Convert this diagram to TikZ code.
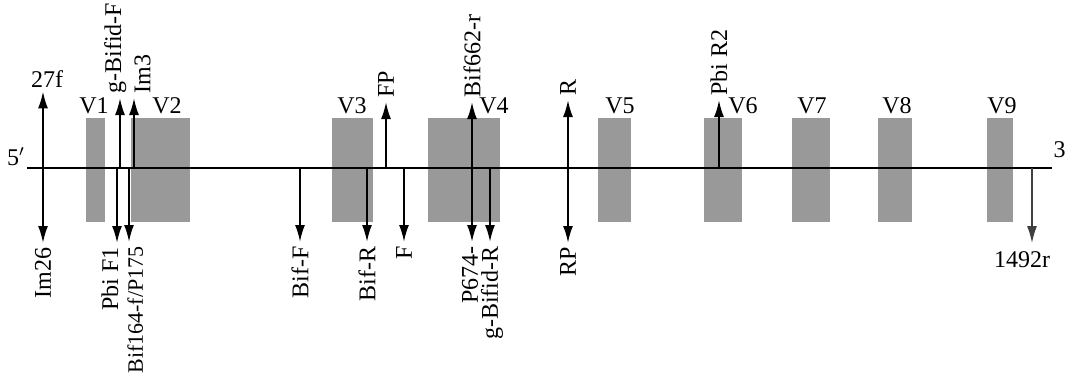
\documentclass[tikz,border=0pt]{standalone}
\usepackage{fontspec}
\setmainfont{Liberation Serif}
\usetikzlibrary{arrows.meta}
\definecolor{exongray}{RGB}{153,153,153}

\begin{document}
\begin{tikzpicture}[%
        x=0.5pt, y=-0.5pt,
        every node/.style={font=\fontsize{12}{14}\selectfont, inner sep=2pt},
        exon/.style={fill=exongray, minimum height=52pt, inner sep=0pt},
        vname/.style={anchor=base},
        fwdlbl/.style={rotate=90, anchor=west},
        revlbl/.style={rotate=90, anchor=east},
        primer/.style={line width=1pt, -{Latex[length=8.5pt,width=5pt]}},
        axis/.style={line width=1pt}
        ]
        \useasboundingbox (0,0) rectangle (1067,376);
        % variable regions
        \node[exon, minimum width=9.5pt] (v1) at (95.5,170) {};
        \node[exon, minimum width=29.5pt] (v2) at (160.5,170) {};
        \node[exon, minimum width=20.5pt] (v3) at (352.5,170) {};
        \node[exon, minimum width=36pt] (v4) at (464,170) {};
        \node[exon, minimum width=16.5pt] (v5) at (614.5,170) {};
        \node[exon, minimum width=19pt] (v6) at (723,170) {};
        \node[exon, minimum width=19pt] (v7) at (811,170) {};
        \node[exon, minimum width=17pt] (v8) at (895,170) {};
        \node[exon, minimum width=13pt] (v9) at (1000,170) {};
        \node[vname] (v1n) at (94,113) {V1};
        \node[vname] (v2n) at (167,113) {V2};
        \node[vname] (v3n) at (352,113) {V3};
        \node[vname] (v4n) at (494,113) {V4};
        \node[vname] (v5n) at (620,113) {V5};
        \node[vname] (v6n) at (743,113) {V6};
        \node[vname] (v7n) at (812,113) {V7};
        \node[vname] (v8n) at (897,113) {V8};
        \node[vname] (v9n) at (1002,113) {V9};
        % gene axis
        \coordinate (ax5) at (27,168);
        \coordinate (ax3) at (1052,168);
        \draw[axis] (ax5) -- (ax3);
        \node (end5) at (16,157) {5$'$};
        \node[anchor=base east, inner sep=0pt] (end3) at (1066,157) {3};
        % forward primers
        \node[anchor=base] (f27) at (47,87) {27f};
        \node[fwdlbl, anchor=base west] (gbf) at (121,98) {g-Bifid-F};
        \node[fwdlbl, anchor=north west] (im3) at (130,98) {Im3};
        \node[fwdlbl] (fp) at (386,102) {FP};
        \node[fwdlbl] (b662) at (472,102) {Bif662-r};
        \node[fwdlbl] (rr) at (568,100) {R};
        \node[fwdlbl] (pr2) at (719,100) {Pbi R2};
        \draw[primer] (ax5 -| 43,0) -- (43,98 |- f27.south);
        \draw[primer] (ax5 -| 120,0) -- (120,0 |- gbf.west);
        \draw[primer] (ax5 -| 134,0) -- (134,0 |- im3.west);
        \draw[primer] (fp.west |- ax5) -- (fp.west);
        \draw[primer] (b662.west |- ax5) -- (b662.west);
        \draw[primer] (rr.west |- ax5) -- (rr.west);
        \draw[primer] (pr2.west |- ax5) -- (pr2.west);
        % reverse primers
        \node[revlbl] (im26) at (43,243) {Im26};
        \node[revlbl, anchor=base east] (pf1) at (118,243) {Pbi F1};
        \node[revlbl, anchor=north east, font=\fontsize{11}{13}\selectfont] (b164) at (123,242) {Bif164-f/P175};
        \node[revlbl] (bff) at (300,242) {Bif-F};
        \node[revlbl] (bfr) at (367,242) {Bif-R};
        \node[revlbl] (ff) at (404,242) {F};
        \node[revlbl] (p674) at (470,242) {P674-};
        \node[revlbl] (gbr) at (492,242) {g-Bifid-R};
        \node[revlbl] (rp) at (568,243) {RP};
        \node[anchor=base] (r1492) at (1022,267) {1492r};
        \draw[primer] (im26.east |- ax5) -- (im26.east);
        \draw[primer] (ax5 -| 117,0) -- (117,0 |- pf1.east);
        \draw[primer] (ax5 -| 129,0) -- (129,0 |- b164.east);
        \draw[primer] (bff.east |- ax5) -- (bff.east);
        \draw[primer] (bfr.east |- ax5) -- (bfr.east);
        \draw[primer] (ff.east |- ax5) -- (ff.east);
        \draw[primer] (ax5 -| 472,0) -- (472,0 |- p674.east);
        \draw[primer] (ax5 -| 490,0) -- (490,0 |- gbr.east);
        \draw[primer] (rp.east |- ax5) -- (rp.east);
        \draw[primer, line width=0.7pt, black!75] (ax5 -| 1032,0) -- (1032,243);
    \end{tikzpicture}
\end{document}
